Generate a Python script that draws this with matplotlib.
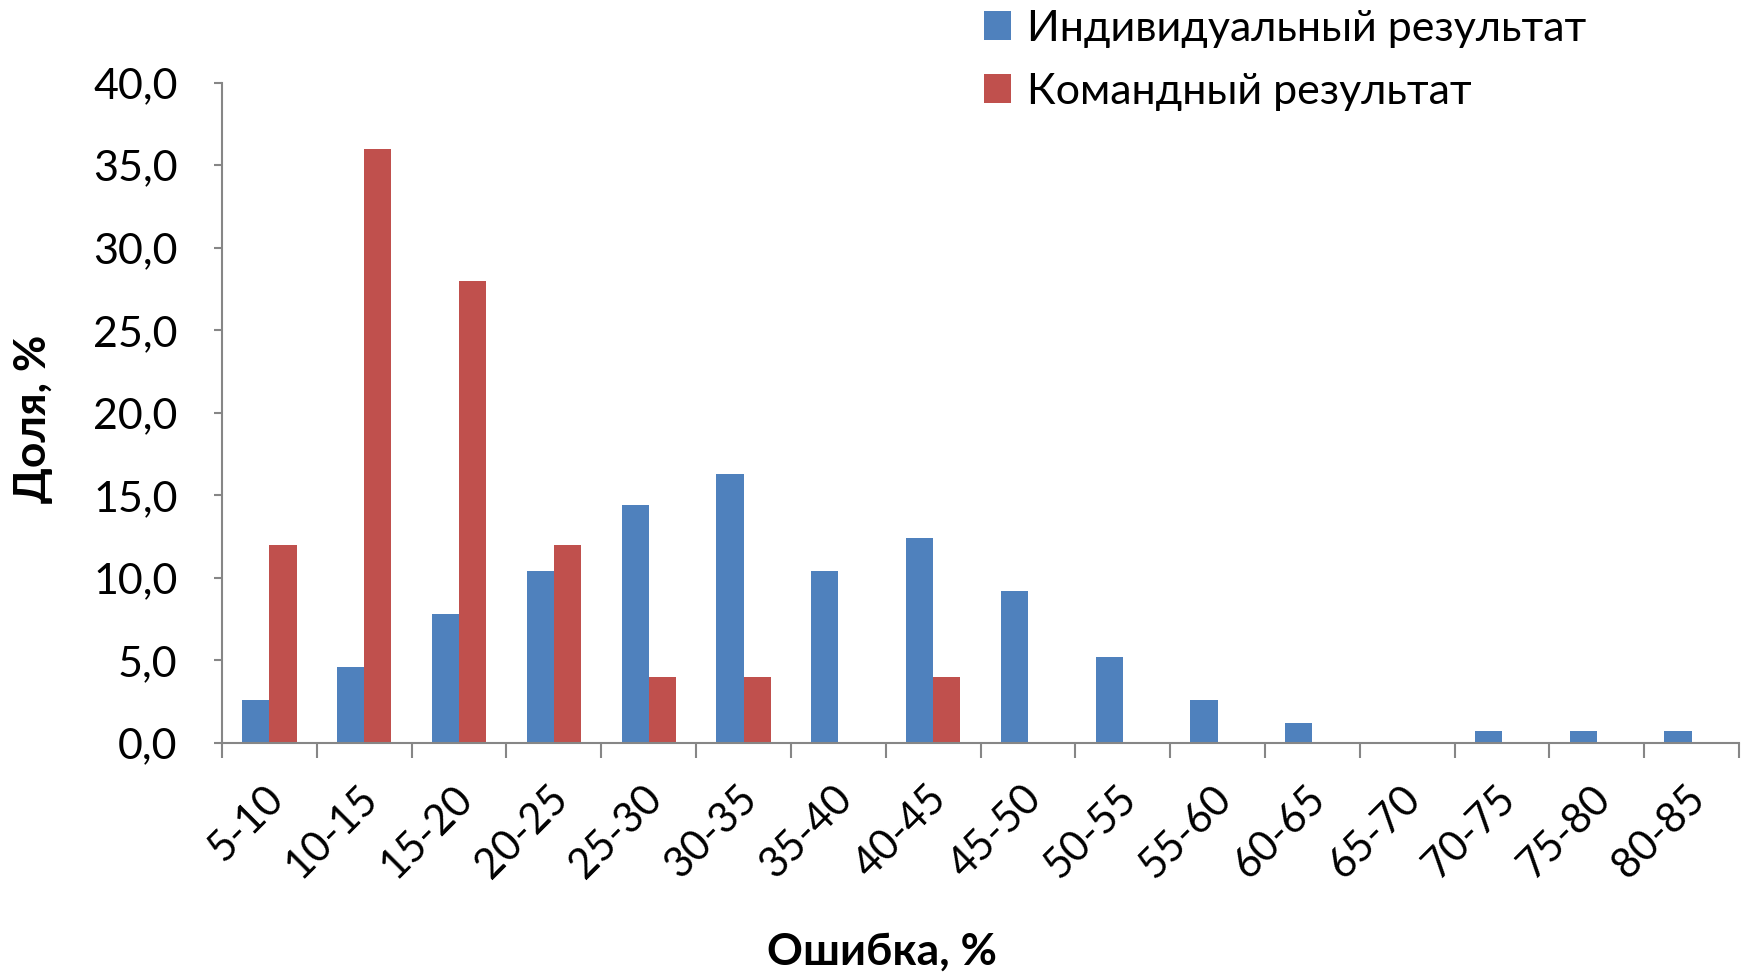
import matplotlib
matplotlib.use("Agg")
import matplotlib.pyplot as plt
import matplotlib.transforms as mtransforms
import numpy as np

categories = ["5-10", "10-15", "15-20", "20-25", "25-30", "30-35", "35-40", "40-45",
              "45-50", "50-55", "55-60", "60-65", "65-70", "70-75", "75-80", "80-85"]
individual = [2.6, 4.6, 7.8, 10.4, 14.4, 16.3, 10.4, 12.4, 9.2, 5.2, 2.6, 1.2, 0.0, 0.7, 0.7, 0.7]
team = [12.0, 36.0, 28.0, 12.0, 4.0, 4.0, 0.0, 4.0, 0.0, 0.0, 0.0, 0.0, 0.0, 0.0, 0.0, 0.0]
series_names = ["Индивидуальный результат", "Командный результат"]
yticks = [0, 5, 10, 15, 20, 25, 30, 35, 40]

plt.rcParams['font.family'] = ['Lato', 'DejaVu Sans']

fig = plt.figure(figsize=(17.5, 9.75), dpi=100)
ax = fig.add_axes([0.1269, 0.238, 0.8668, 0.6773])

x = np.arange(len(categories))
w = 1 / 3.5
b1 = ax.bar(x - w / 2, individual, width=w, color="#4F81BD", label=series_names[0])
b2 = ax.bar(x + w / 2, team, width=w, color="#C0504D", label=series_names[1])

ax.set_xlim(-0.5, len(categories) - 0.5)
ax.set_ylim(0, 40)
ax.set_yticks(yticks)
ax.set_yticklabels([f"{v:.1f}".replace(".", ",") for v in yticks], fontsize=31)

ax.set_xticks(x)
ax.set_xticklabels(categories, fontsize=30, rotation=45, ha="right", rotation_mode="anchor")
ax.tick_params(axis="x", which="major", length=0, pad=26)
offset = mtransforms.ScaledTranslation(-6 / 100, 0, fig.dpi_scale_trans)
for lbl in ax.get_xticklabels():
    lbl.set_transform(lbl.get_transform() + offset)
ax.set_xticks(np.arange(-0.5, len(categories), 1.0), minor=True)
ax.tick_params(axis="x", which="minor", length=11, width=1.5, color="#868686", direction="out")
ax.tick_params(axis="y", length=6, width=1.5, color="#868686", direction="out", pad=26)

for s in ["top", "right"]:
    ax.spines[s].set_visible(False)
for s in ["left", "bottom"]:
    ax.spines[s].set_color("#868686")
    ax.spines[s].set_linewidth(1.5)

fig.text(0.019, 0.57, "Доля, %", fontsize=32, fontweight="bold", rotation=90,
         ha="center", va="center")
fig.text(0.504, 0.024, "Ошибка, %", fontsize=32, fontweight="bold",
         ha="center", va="center")

leg = fig.legend(handles=[b1, b2], loc="upper left", bbox_to_anchor=(0.562, 0.99),
                 frameon=False, fontsize=31, handlelength=0.65, handleheight=0.65,
                 handletextpad=0.35, labelspacing=0.58, borderpad=0.0, borderaxespad=0.0)

fig.savefig("out.png", dpi=100)
